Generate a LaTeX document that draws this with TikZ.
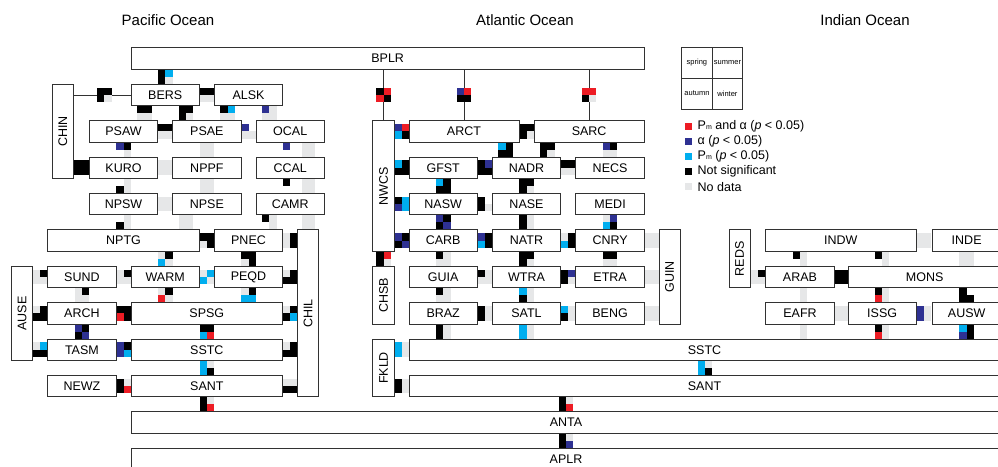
\documentclass[tikz,border=0pt]{standalone}
\usepackage{fontspec}
\setmainfont{Liberation Sans}
\usetikzlibrary{calc}
\definecolor{cR}{RGB}{237,28,36}
\definecolor{cB}{RGB}{46,49,146}
\definecolor{cC}{RGB}{0,174,239}
\definecolor{cG}{RGB}{230,231,232}
\definecolor{cK}{RGB}{0,0,0}
\definecolor{edge}{RGB}{50,50,50}
\pgfdeclarelayer{bg}
\pgfsetlayers{bg,main}
\tikzset{
  box/.style={draw=edge, line width=0.9pt, fill=white, inner sep=0pt, outer sep=0pt, font=\fontsize{12.5}{14}\selectfont},
  lab/.style={inner sep=0pt, font=\fontsize{12.5}{14}\selectfont},
  title/.style={inner sep=0pt, font=\fontsize{15}{17}\selectfont},
  cell/.style={draw=edge, line width=0.9pt, inner sep=0pt, outer sep=0pt, minimum width=30.5pt, minimum height=30.85pt, font=\fontsize{7.5}{8}\selectfont},
  legsq/.style={inner sep=0pt, minimum size=7pt},
  legtx/.style={inner sep=0pt, anchor=west, font=\fontsize{12.5}{14}\selectfont},
  link/.style={draw=edge, line width=0.8pt},
  qK/.style={fill=cK}, qR/.style={fill=cR}, qB/.style={fill=cB},
  qC/.style={fill=cC}, qG/.style={fill=cG}, qW/.style={},
}
\newcommand\bx[6]{\node[box, minimum width={(#4)-(#2)}, minimum height={(#5)-(#3)}] (#1) at ({((#2)+(#4))/2},{((#3)+(#5))/2}) {#6};}
\newcommand\vbx[6]{\node[box, minimum width={(#4)-(#2)}, minimum height={(#5)-(#3)}] (#1) at ({((#2)+(#4))/2},{((#3)+(#5))/2}) {};
  \node[lab, rotate=90] (#1-t) at (#1) {#6};}
\newcommand\grid[6]{%
  \path[q#3] ({#1-7.3},{#2-7.3}) rectangle ({#1},{#2});
  \path[q#4] ({#1},{#2-7.3}) rectangle ({#1+7.3},{#2});
  \path[q#5] ({#1-7.3},{#2}) rectangle ({#1},{#2+7.3});
  \path[q#6] ({#1},{#2}) rectangle ({#1+7.3},{#2+7.3});}
\begin{document}
\begin{tikzpicture}[x=1pt, y=-1pt]
\useasboundingbox (0,0) rectangle (998,466);
% titles
\node[title] (tpac) at (168,20.5) {Pacific Ocean};
\node[title] (tatl) at (525,20.5) {Atlantic Ocean};
\node[title] (tind) at (865,20.5) {Indian Ocean};
% ---------------- Pacific
\bx{bplr}{131}{47.9}{644.3}{69.2}{BPLR}
\bx{bers}{131}{84.3}{199.4}{105.6}{BERS}
\bx{alsk}{214.3}{84.3}{282.7}{105.6}{ALSK}
\vbx{chin}{52.3}{84.3}{73.3}{178.4}{CHIN}
\bx{psaw}{89.3}{120.7}{157.7}{142}{PSAW}
\bx{psae}{172.7}{120.7}{241.1}{142}{PSAE}
\bx{ocal}{256}{120.7}{324.4}{142}{OCAL}
\bx{kuro}{89.3}{157.1}{157.7}{178.4}{KURO}
\bx{nppf}{172.7}{157.1}{241.1}{178.4}{NPPF}
\bx{ccal}{256}{157.1}{324.4}{178.4}{CCAL}
\bx{npsw}{89.3}{193.5}{157.7}{214.8}{NPSW}
\bx{npse}{172.7}{193.5}{241.1}{214.8}{NPSE}
\bx{camr}{256}{193.5}{324.4}{214.8}{CAMR}
\bx{nptg}{47.7}{229.9}{199.4}{251.2}{NPTG}
\bx{pnec}{214.3}{229.9}{282.7}{251.2}{PNEC}
\vbx{chil}{297.7}{229.9}{318.3}{396.8}{CHIL}
\vbx{ause}{11.7}{266.3}{32.3}{360.4}{AUSE}
\bx{sund}{47.7}{266.3}{116.1}{287.6}{SUND}
\bx{warm}{131}{266.3}{199.4}{287.6}{WARM}
\bx{peqd}{214.3}{266.3}{282.7}{287.6}{PEQD}
\bx{arch}{47.7}{302.7}{116.1}{324}{ARCH}
\bx{spsg}{131}{302.7}{282.7}{324}{SPSG}
\bx{tasm}{47.7}{339.1}{116.1}{360.4}{TASM}
\bx{sstcp}{131}{339.1}{282.7}{360.4}{SSTC}
\bx{newz}{47.7}{375.5}{116.1}{396.8}{NEWZ}
\bx{santp}{131}{375.5}{282.7}{396.8}{SANT}
\bx{anta}{131}{411.9}{1001}{433.2}{ANTA}
\bx{aplr}{131}{448.3}{1001}{469.6}{APLR}
% ---------------- Atlantic
\vbx{nwcs}{372.7}{120.7}{394.3}{251.2}{NWCS}
\bx{arct}{409}{120.7}{519}{142}{ARCT}
\bx{sarc}{534}{120.7}{644.3}{142}{SARC}
\bx{gfst}{409}{157.1}{477.4}{178.4}{GFST}
\bx{nadr}{492.3}{157.1}{560.7}{178.4}{NADR}
\bx{necs}{575.9}{157.1}{644.3}{178.4}{NECS}
\bx{nasw}{409}{193.5}{477.4}{214.8}{NASW}
\bx{nase}{492.3}{193.5}{560.7}{214.8}{NASE}
\bx{medi}{575.9}{193.5}{644.3}{214.8}{MEDI}
\bx{carb}{409}{229.9}{477.4}{251.2}{CARB}
\bx{natr}{492.3}{229.9}{560.7}{251.2}{NATR}
\bx{cnry}{575.9}{229.9}{644.3}{251.2}{CNRY}
\vbx{chsb}{372.7}{266.3}{394.3}{324}{CHSB}
\bx{guia}{409}{266.3}{477.4}{287.6}{GUIA}
\bx{wtra}{492.3}{266.3}{560.7}{287.6}{WTRA}
\bx{etra}{575.9}{266.3}{644.3}{287.6}{ETRA}
\vbx{guin}{659.3}{229.9}{680}{324}{GUIN}
\bx{braz}{409}{302.7}{477.4}{324}{BRAZ}
\bx{satl}{492.3}{302.7}{560.7}{324}{SATL}
\bx{beng}{575.9}{302.7}{644.3}{324}{BENG}
\vbx{fkld}{372.7}{339.1}{394.3}{396.8}{FKLD}
\bx{sstca}{409}{339.1}{1000}{360.4}{SSTC}
\bx{santa}{409}{375.5}{1000}{396.8}{SANT}
% ---------------- Indian
\vbx{reds}{729}{229.9}{750}{287.6}{REDS}
\bx{indw}{765.7}{229.9}{916}{251.2}{INDW}
\bx{inde}{932.3}{229.9}{1001}{251.2}{INDE}
\bx{arab}{765.7}{266.3}{834.3}{287.6}{ARAB}
\bx{mons}{848.3}{266.3}{1001}{287.6}{MONS}
\bx{eafr}{765.7}{302.7}{834.3}{324}{EAFR}
\bx{issg}{848.3}{302.7}{916}{324}{ISSG}
\bx{ausw}{932.3}{302.7}{1001}{324}{AUSW}
% ---------------- legend
\node[cell] (spr) at (696.95,62.72) {spring};
\node[cell] (sum) at (727.45,62.72) {summer};
\node[cell] (aut) at (696.95,93.57) {autumn};
\node[cell] (win) at (727.45,93.57) {winter};
\node[legsq, fill=cR] (lg1) at (688.5,126.3) {};
\node[legsq, fill=cB] (lg2) at (688.5,141.4) {};
\node[legsq, fill=cC] (lg3) at (688.5,156.5) {};
\node[legsq, fill=cK] (lg4) at (688.5,171.6) {};
\node[legsq, fill=cG] (lg5) at (688.5,186.7) {};
\node[legtx] (lt1) at (697.5,126.3) {P{\fontsize{7}{7}\selectfont m} and α (\textit{p} < 0.05)};
\node[legtx] (lt2) at (697.5,141.4) {α (\textit{p} < 0.05)};
\node[legtx] (lt3) at (697.5,156.5) {P{\fontsize{7}{7}\selectfont m} (\textit{p} < 0.05)};
\node[legtx] (lt4) at (697.5,171.6) {Not significant};
\node[legtx] (lt5) at (697.5,186.7) {No data};
% ---------------- connectors
\begin{pgfonlayer}{bg}
\draw[link] (chin.east |- bers.west) -- (bers.west);
\draw[link] (nwcs.north |- bplr.south) -- (nwcs.north);
\draw[link] (arct.north |- bplr.south) -- (arct.north);
\draw[link] (sarc.north |- bplr.south) -- (sarc.north);
% gray strip behind CCAL/CAMR column
\fill[cG] (301.7,142) rectangle (315,157.1);
\fill[cG] (301.7,178.4) rectangle (315,193.5);
\fill[cG] (301.7,214.8) rectangle (315,229.9);
\fill[cK] (73.3,160.45) rectangle (89.3,175.05);
% Pacific vertical
\grid{165.2}{76.75}{K}{C}{K}{G}
\grid{144.35}{113.15}{K}{K}{G}{G}
\grid{186.05}{113.15}{K}{K}{K}{G}
\grid{227.7}{113.15}{K}{C}{G}{G}
\grid{269.35}{113.15}{B}{G}{G}{G}
\grid{123.5}{149.55}{B}{K}{W}{G}
\grid{206.9}{149.55}{G}{G}{G}{G}
\grid{290.2}{149.55}{B}{W}{W}{W}
\grid{123.5}{185.95}{W}{G}{K}{G}
\grid{206.9}{185.95}{G}{G}{G}{G}
\grid{290.2}{185.95}{K}{W}{W}{W}
\grid{123.5}{222.35}{W}{G}{K}{G}
\grid{186.05}{222.35}{G}{G}{G}{G}
\grid{269.35}{222.35}{K}{G}{W}{G}
\grid{165.2}{258.75}{G}{K}{C}{G}
\grid{248.5}{258.75}{K}{K}{G}{K}
\grid{81.9}{295.15}{G}{K}{G}{G}
\grid{165.2}{295.15}{G}{K}{R}{G}
\grid{248.5}{295.15}{G}{K}{C}{C}
\grid{81.9}{331.55}{B}{K}{K}{B}
\grid{206.9}{331.55}{K}{K}{C}{R}
\grid{206.9}{367.95}{C}{G}{C}{K}
\grid{206.9}{404.35}{K}{G}{K}{R}
% Pacific horizontal
\grid{104.2}{94.95}{K}{K}{K}{G}
\grid{206.85}{94.95}{K}{K}{G}{G}
\grid{165.2}{131.35}{K}{K}{G}{G}
\grid{248.55}{131.35}{B}{W}{G}{G}
\grid{165.2}{167.75}{G}{G}{G}{G}
\grid{165.2}{204.15}{G}{G}{G}{G}
\grid{206.85}{240.55}{K}{K}{G}{K}
\grid{290.2}{240.55}{G}{K}{G}{K}
\grid{40}{276.95}{G}{K}{G}{G}
\grid{123.55}{276.95}{G}{K}{G}{G}
\grid{206.85}{276.95}{G}{C}{C}{G}
\grid{290.2}{276.95}{G}{K}{K}{K}
\grid{40}{313.35}{G}{K}{K}{K}
\grid{123.55}{313.35}{K}{K}{R}{K}
\grid{290.2}{313.35}{G}{K}{K}{C}
\grid{40}{349.75}{G}{C}{K}{K}
\grid{123.55}{349.75}{B}{K}{B}{C}
\grid{290.2}{349.75}{G}{K}{K}{K}
\grid{123.55}{386.15}{K}{G}{K}{R}
\grid{290.2}{386.15}{G}{G}{K}{K}
% Atlantic vertical
\grid{383.5}{95}{K}{R}{R}{K}
\grid{464}{95}{B}{R}{K}{K}
\grid{589.15}{95}{R}{R}{K}{G}
\grid{505.65}{149.55}{C}{K}{K}{K}
\grid{547.35}{149.55}{K}{K}{K}{G}
\grid{610.1}{149.55}{B}{K}{G}{G}
\grid{443.2}{185.95}{C}{K}{K}{K}
\grid{526.5}{185.95}{K}{K}{K}{G}
\grid{443.2}{222.35}{B}{K}{K}{B}
\grid{526.5}{222.35}{K}{G}{K}{G}
\grid{610.1}{222.35}{G}{B}{C}{K}
\grid{383.5}{258.75}{K}{R}{K}{G}
\grid{443.2}{258.75}{K}{G}{G}{G}
\grid{526.5}{258.75}{K}{K}{K}{G}
\grid{610.1}{258.75}{K}{K}{G}{G}
\grid{443.2}{295.15}{K}{G}{G}{G}
\grid{526.5}{295.15}{C}{G}{K}{G}
\grid{443.2}{331.55}{K}{G}{K}{G}
\grid{526.5}{331.55}{C}{G}{C}{G}
\grid{705}{367.95}{C}{G}{C}{K}
\grid{566}{404.35}{K}{G}{K}{R}
\grid{566}{440.75}{K}{G}{K}{B}
% Atlantic horizontal
\grid{401.65}{131.35}{B}{R}{C}{K}
\grid{526.5}{131.35}{K}{K}{K}{G}
\grid{401.65}{167.75}{C}{K}{K}{K}
\grid{484.85}{167.75}{K}{B}{K}{K}
\grid{568.3}{167.75}{K}{K}{G}{G}
\grid{401.65}{204.15}{K}{C}{B}{C}
\grid{484.85}{204.15}{K}{W}{K}{G}
\grid{401.65}{240.55}{B}{K}{K}{B}
\grid{484.85}{240.55}{B}{K}{C}{K}
\grid{568.3}{240.55}{G}{K}{C}{K}
\grid{651.8}{240.55}{G}{G}{G}{G}
\grid{484.85}{276.95}{K}{G}{G}{G}
\grid{568.3}{276.95}{K}{B}{K}{G}
\grid{651.8}{276.95}{G}{G}{G}{G}
\grid{484.85}{313.35}{K}{G}{K}{G}
\grid{568.3}{313.35}{C}{G}{K}{G}
\grid{651.8}{313.35}{G}{G}{G}{G}
\grid{401.65}{349.75}{C}{G}{C}{G}
\grid{401.65}{386.15}{K}{G}{K}{G}
% Indian
\grid{800}{258.75}{K}{G}{W}{G}
\grid{882.15}{258.75}{K}{G}{W}{G}
\grid{924.15}{240.55}{G}{G}{G}{G}
\grid{966.65}{258.75}{G}{G}{G}{G}
\grid{757.85}{276.95}{G}{K}{G}{G}
\grid{841.3}{276.95}{K}{K}{K}{K}
\grid{800}{295.15}{W}{G}{W}{G}
\grid{841.3}{313.35}{G}{G}{G}{G}
\grid{882.15}{295.15}{K}{G}{R}{G}
\grid{966.65}{295.15}{K}{W}{K}{K}
\grid{924.15}{313.35}{B}{G}{B}{G}
\grid{800}{331.55}{W}{G}{W}{G}
\grid{882.15}{331.55}{K}{G}{R}{G}
\grid{966.65}{331.55}{C}{K}{B}{K}
\end{pgfonlayer}
\end{tikzpicture}
\end{document}
